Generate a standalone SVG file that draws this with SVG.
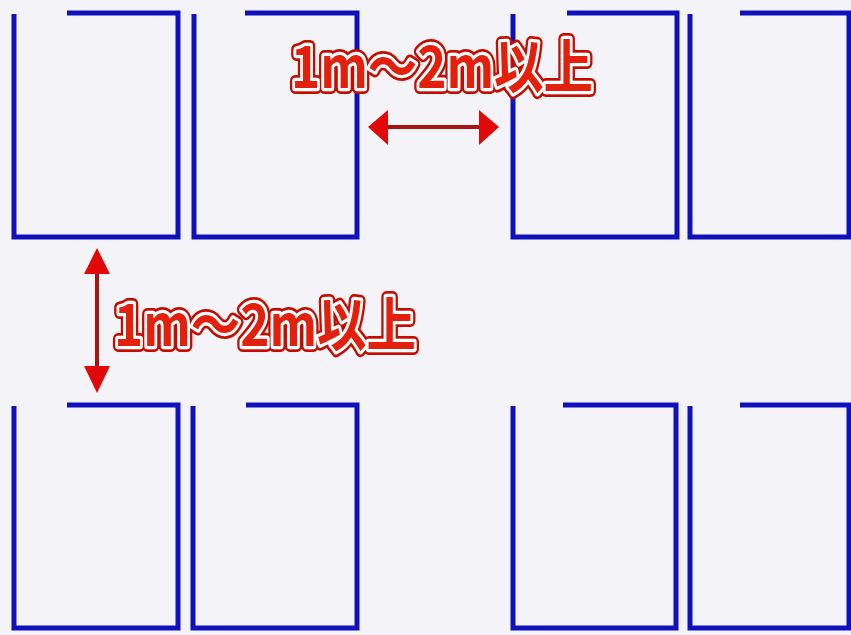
<svg xmlns="http://www.w3.org/2000/svg" width="851" height="635" viewBox="0 0 851 635">
  <defs>
    <style>
      .booth { fill: none; stroke: #1010bc; stroke-width: 5; stroke-linejoin: miter; }
      .lbl { font-family: "Noto Sans CJK JP", "DejaVu Sans", sans-serif; font-weight: bold; font-size: 58px; }
      .outer { fill: #c00a00; stroke: #c40c00; stroke-width: 12; stroke-linejoin: round; }
      .mid { fill: #ffffff; stroke: #ffffff; stroke-width: 6.5; stroke-linejoin: round; }
      .core { fill: #e3200c; }
      .dim { stroke: #a81414; stroke-width: 4; fill: none; }
      .head { fill: #e00808; }
    </style>
  </defs>
  <rect width="851" height="635" fill="#f4f4f8"/>

  <g id="booth-1"><path class="booth" d="M14,14 V237 H178 V13 H67"/></g>
  <g id="booth-2"><path class="booth" d="M194,14 V237 H357 V13 H245"/></g>
  <g id="booth-3"><path class="booth" d="M513,14 V237 H677 V13 H567"/></g>
  <g id="booth-4"><path class="booth" d="M690,14 V237 H849 V13 H740"/></g>
  <g id="booth-5"><path class="booth" d="M14,406 V628 H178 V405 H67"/></g>
  <g id="booth-6"><path class="booth" d="M193,406 V628 H357 V405 H246"/></g>
  <g id="booth-7"><path class="booth" d="M513,406 V628 H676 V405 H563"/></g>
  <g id="booth-8"><path class="booth" d="M690,406 V628 H849 V405 H740"/></g>

  <g id="connectors">
    <line class="dim" x1="386" y1="127" x2="482" y2="127"/>
    <polygon class="head" points="368,127 388,110 388,145"/>
    <polygon class="head" points="499,127 479,110 479,145"/>
    <line class="dim" x1="97" y1="268" x2="97" y2="372"/>
    <polygon class="head" points="97,248 84,274 110,274"/>
    <polygon class="head" points="97,393 84,366 110,366"/>
  </g>

  <g id="label-horizontal" class="lbl">
    <text class="outer" x="291" y="88" textLength="302" lengthAdjust="spacingAndGlyphs">1m～2m以上</text>
    <text class="mid" x="291" y="88" textLength="302" lengthAdjust="spacingAndGlyphs">1m～2m以上</text>
    <text class="core" x="291" y="88" textLength="302" lengthAdjust="spacingAndGlyphs">1m～2m以上</text>
  </g>
  <g id="label-vertical" class="lbl">
    <text class="outer" x="114" y="346" textLength="302" lengthAdjust="spacingAndGlyphs">1m～2m以上</text>
    <text class="mid" x="114" y="346" textLength="302" lengthAdjust="spacingAndGlyphs">1m～2m以上</text>
    <text class="core" x="114" y="346" textLength="302" lengthAdjust="spacingAndGlyphs">1m～2m以上</text>
  </g>
</svg>
